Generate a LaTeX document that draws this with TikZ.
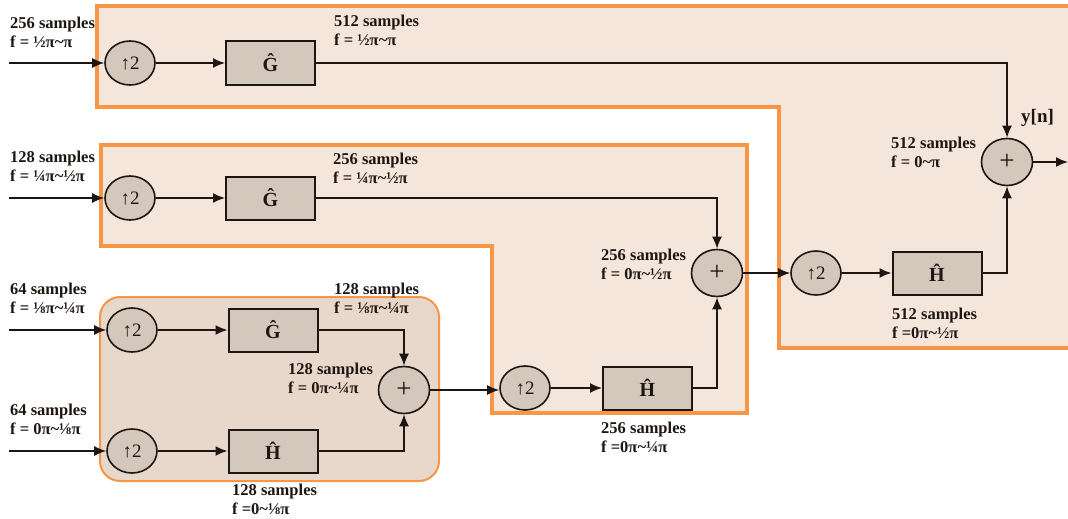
\documentclass[tikz,border=0pt]{standalone}
\usepackage{fontspec}
\setmainfont{Liberation Serif}
\usetikzlibrary{shapes.geometric,arrows.meta}
\definecolor{regfill}{HTML}{F5E6DC}
\definecolor{orng}{HTML}{F79646}
\definecolor{boxfill}{HTML}{E8D8CC}
\definecolor{nfill}{HTML}{D4C7BC}
\definecolor{ink}{HTML}{1E1612}
\begin{document}
\begin{tikzpicture}[x=1pt,y=-1pt,
  conn/.style={draw=ink,line width=1.6pt,-{Latex[length=12pt,width=10pt]}},
  upnode/.style={ellipse,draw=ink,fill=nfill,line width=1.6pt,minimum width=50pt,minimum height=44pt,inner sep=0pt,font=\fontsize{19}{19}\selectfont,text=ink},
  sumnode/.style={upnode,minimum width=51pt,minimum height=47pt,font=\fontsize{27}{27}\selectfont},
  filt/.style={rectangle,draw=ink,fill=nfill,line width=2pt,minimum width=89pt,minimum height=43pt,inner sep=0pt,font=\bfseries\fontsize{20}{20}\selectfont,text=ink},
  lbl/.style={anchor=north west,align=left,inner sep=0pt,font=\bfseries\fontsize{16.5}{19}\selectfont,text=ink},
  region/.style={fill=regfill,draw=orng,line width=3.5pt,line join=miter}
]
\useasboundingbox (0,0) rectangle (1068,519);
\fill[white] (0,0) rectangle (1068,519);
% regions
\draw[region] (97,6) -- (1080,6) -- (1080,348) -- (779,348) -- (779,107) -- (97,107) -- cycle;
\draw[region] (101,145) -- (747,145) -- (747,413) -- (492,413) -- (492,246) -- (101,246) -- cycle;
\draw[fill=boxfill,draw=orng,line width=2pt,rounded corners=20pt] (100,297) rectangle (439,481);

% input coordinates
\coordinate (in1) at (9,63);
\coordinate (in2) at (9,198);
\coordinate (in3) at (9,330);
\coordinate (in4) at (9,451);
\coordinate (out) at (1068,162);

% nodes
\node[upnode] (U1) at (130,63) {↑2};
\node[filt] (G1) at (270.5,63) {Ĝ};
\node[upnode] (U2) at (130,198) {↑2};
\node[filt] (G2) at (270.5,198) {Ĝ};
\node[upnode] (U3) at (132,330) {↑2};
\node[filt] (G3) at (273,330) {Ĝ};
\node[upnode] (U4) at (132,451) {↑2};
\node[filt] (H4) at (273,451) {Ĥ};
\node[sumnode] (S3) at (404,390) {+};
\node[upnode] (U5) at (525,388) {↑2};
\node[filt] (H5) at (647.5,388) {Ĥ};
\node[sumnode] (S2) at (717,273) {+};
\node[upnode] (U6) at (816,273) {↑2};
\node[filt] (H6) at (937,273) {Ĥ};
\node[sumnode] (S1) at (1007,162) {+};

% connectors
\draw[conn] (in1) -- (U1);
\draw[conn] (U1) -- (G1);
\draw[conn] (G1.east) -| (S1.north);
\draw[conn] (in2) -- (U2);
\draw[conn] (U2) -- (G2);
\draw[conn] (G2.east) -| (S2.north);
\draw[conn] (in3) -- (U3);
\draw[conn] (U3) -- (G3);
\draw[conn] (G3.east) -| (S3.north);
\draw[conn] (in4) -- (U4);
\draw[conn] (U4) -- (H4);
\draw[conn] (H4.east) -| (S3.south);
\draw[conn] (S3.east) -- (S3.east -| U5.west);
\draw[conn] (U5) -- (H5);
\draw[conn] (H5.east) -| (S2.south);
\draw[conn] (S2.east) -- (S2.east -| U6.west);
\draw[conn] (U6) -- (H6);
\draw[conn] (H6.east) -| (S1.south);
\draw[conn] (S1.east) -- (out);

% labels
\node[lbl] (L1) at (10,17) {256 samples\\f = ½π\textasciitilde π};
\node[lbl] (L2) at (334,15) {512 samples\\f = ½π\textasciitilde π};
\node[lbl] (L3) at (10,151) {128 samples\\f = ¼π\textasciitilde ½π};
\node[lbl] (L4) at (333,153) {256 samples\\f = ¼π\textasciitilde ½π};
\node[lbl] (L5) at (891,137) {512 samples\\f = 0\textasciitilde π};
\node[lbl] (L6) at (601,249) {256 samples\\f = 0π\textasciitilde ½π};
\node[lbl] (L7) at (892,308) {512 samples\\f =0π\textasciitilde ½π};
\node[lbl] (L8) at (10,283) {64 samples\\f = ⅛π\textasciitilde ¼π};
\node[lbl] (L9) at (334,283) {128 samples\\f = ⅛π\textasciitilde ¼π};
\node[lbl] (L10) at (288,363) {128 samples\\f = 0π\textasciitilde ¼π};
\node[lbl] (L11) at (10,404) {64 samples\\f = 0π\textasciitilde ⅛π};
\node[lbl] (L12) at (232,484) {128 samples\\f =0\textasciitilde ⅛π};
\node[lbl] (L13) at (601,422) {256 samples\\f =0π\textasciitilde ¼π};
\node[anchor=base west,inner sep=0pt,font=\bfseries\fontsize{19}{19}\selectfont,text=ink] (Y) at (1021,122) {y[n]};
\end{tikzpicture}
\end{document}
